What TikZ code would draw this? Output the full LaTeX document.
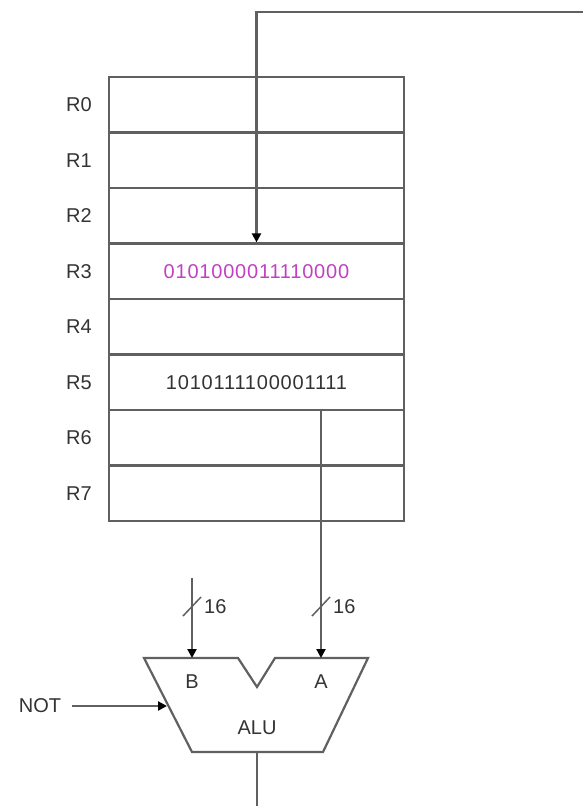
\documentclass[tikz,border=0pt]{standalone}
\usepackage{fontspec}
\setmainfont{Liberation Sans}
\usetikzlibrary{arrows.meta,calc,positioning}
\definecolor{wiregray}{HTML}{606060}
\definecolor{bitpink}{HTML}{C23FC2}
\definecolor{labgray}{HTML}{333333}
\tikzset{reg/.style={draw=wiregray, line width=2.2pt, minimum width=295pt, minimum height=55.5pt, inner sep=0pt}, lab/.style={font=\fontsize{20}{24}\selectfont, text=labgray, inner sep=0pt}, bits/.style={lab, font=\fontsize{20}{24}\selectfont\addfontfeature{LetterSpace=4}}, bus/.style={draw=wiregray, line width=2.2pt, -{Triangle[length=9pt,width=9pt,color=black]}}, wire/.style={draw=wiregray, line width=2.2pt}, alu/.style={draw=wiregray, line width=2.2pt, line join=miter}}
\begin{document}
\begin{tikzpicture}[x=1pt,y=-1pt]
\useasboundingbox (0,0) rectangle (583,806);
% register file
\foreach \i in {0,...,7} {
  \node[reg] (r\i) at (256.5,{104.75+55.5*\i}) {};
  \node[lab, anchor=east] (n\i) at ($(r\i.west)+(-16,0)$) {R\i};
}
\node[bits, text=bitpink] (v3) at (r3.center) {0101000011110000};
\node[bits] (v5) at (r5.center) {1010111100001111};
% alu
\draw[alu] (144,658) -- (238,658) -- (257,687) -- (275,658) -- (368,658) -- (323,752) -- (192,752) -- cycle;
\coordinate (inB) at (192,658); \coordinate (inA) at (321,658);
\coordinate (inN) at (167,706); \coordinate (out) at (257,752);
\node[lab] (lb) at (192,682) {B}; \node[lab] (la) at (321,682) {A};
\node[lab] (lalu) at (257,728) {ALU};
\node[lab] (not) at (40,706) {NOT};
% wires
\coordinate (wtop) at (583,12); \coordinate (srcB) at (192,578); \coordinate (dst) at (257,806);
\draw[bus] (wtop) -| (r3.north);
\draw[bus] (r5.south -| inA) -- (inA);
\draw[bus] (srcB) -- (inB);
\draw[bus] ($(not.east)+(11,0)$) -- (inN);
\draw[wire] (out) -- (dst);
% bus widths
\foreach \p in {inB,inA} {
  \draw[wire, line width=1.5pt] ($(\p)+(-9,-42)$) -- ($(\p)+(9,-61)$);
  \node[lab, anchor=west] at ($(\p)+(12,-51)$) {16};
}
\end{tikzpicture}
\end{document}
